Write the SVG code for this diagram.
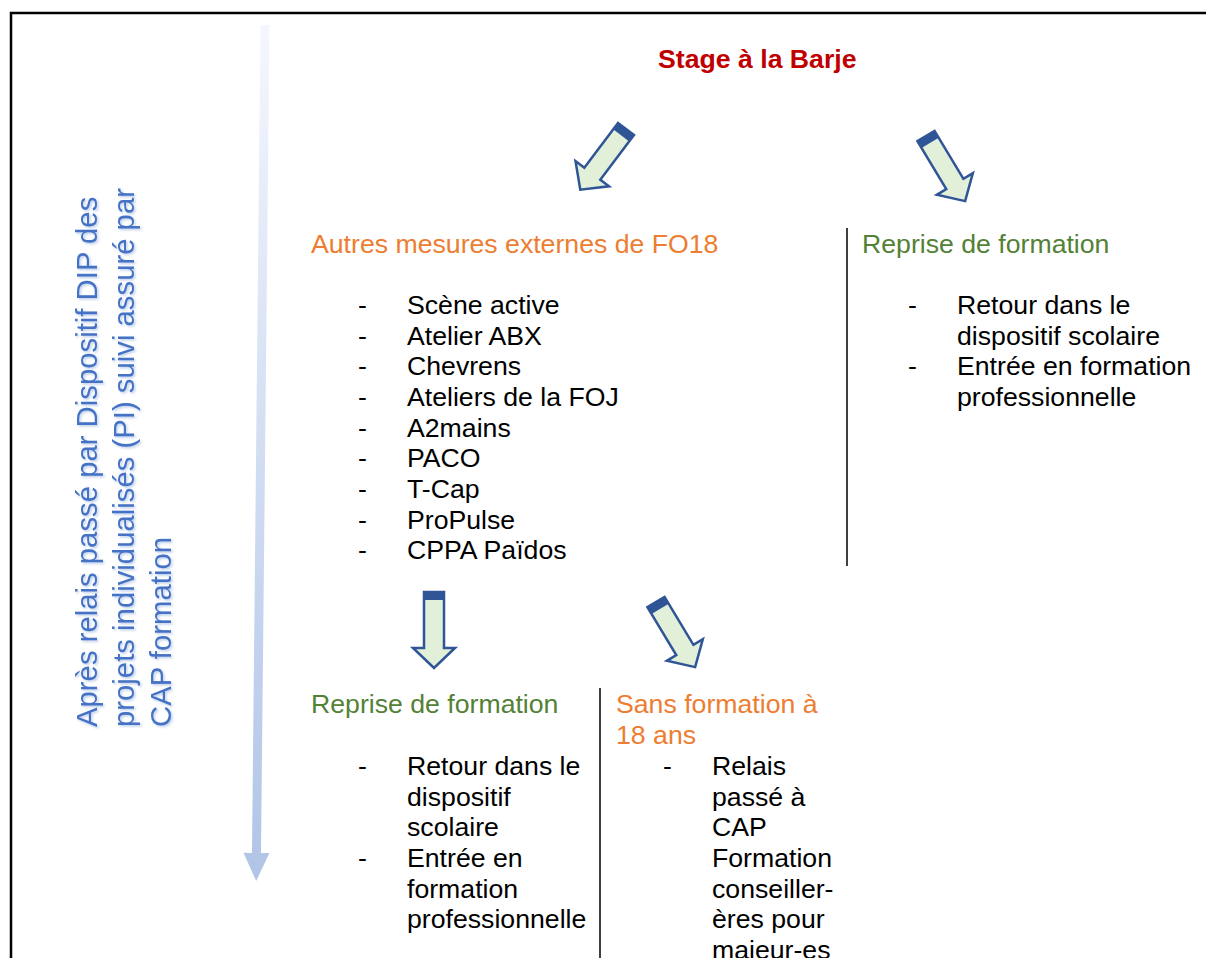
<svg xmlns="http://www.w3.org/2000/svg" xmlns:xlink="http://www.w3.org/1999/xlink" width="1206" height="958" viewBox="0 0 1206 958">
  <style>
    .t { font-family: "Liberation Sans", Arial, sans-serif; font-size: 26.67px; fill: #000000; }
    .title { font-family: "Liberation Sans", Arial, sans-serif; font-size: 26.67px; font-weight: bold; fill: #c00000; }
    .orange { fill: #ed7d31; }
    .green { fill: #538135; }
    .side { font-family: "Liberation Sans", Arial, sans-serif; font-size: 29.3px; fill: #4472c4; }
    .sep { stroke: #000000; stroke-width: 1.5; fill: none; }
    .frame { stroke: #000000; stroke-width: 2.5; fill: none; }
    .blk { fill: #e2efd9; stroke: #2f5597; stroke-width: 2.5; stroke-linejoin: miter; }
    .band { fill: #2f5597; }
  </style>
  <defs>
    <linearGradient id="timeGrad" gradientUnits="userSpaceOnUse" x1="0" y1="0" x2="0" y2="856">
      <stop offset="0" stop-color="#f4f7fd"/>
      <stop offset="1" stop-color="#b0c4e7"/>
    </linearGradient>
    <filter id="softShadow" x="-10%" y="-10%" width="120%" height="120%">
      <feDropShadow dx="1.5" dy="1.5" stdDeviation="1" flood-color="#4472c4" flood-opacity="0.35"/>
    </filter>
    <!-- block arrow pointing down, tail centred on the origin -->
    <g id="blockArrow">
      <polygon class="blk" points="-10,0 10,0 10,56 21,56 0,76 -21,56 -10,56"/>
      <rect class="band" x="-10" y="0" width="20" height="8"/>
    </g>
  </defs>

  <rect width="1206" height="958" fill="#ffffff"/>

  <!-- outer frame (top and left edges) -->
  <polyline class="frame" points="11,958 11,13 1206,13"/>

  <!-- timeline arrow on the left -->
  <g id="timeline" transform="translate(265,25) rotate(0.59)">
    <polygon fill="url(#timeGrad)" points="-4.5,0 4.5,0 4.5,828 13,828 0,856 -13,828 -4.5,828"/>
  </g>

  <g id="side-label" filter="url(#softShadow)">
    <text class="side" transform="rotate(-90)" x="-727" y="97">Après relais passé par Dispositif DIP des</text>
    <text class="side" transform="rotate(-90)" x="-727" y="134">projets individualisés (PI) suivi assuré par</text>
    <text class="side" transform="rotate(-90)" x="-727" y="171">CAP formation</text>
  </g>

  <g id="stage">
    <text class="title" x="658" y="68">Stage à la Barje</text>
  </g>

  <g id="autres-mesures">
    <text class="t orange" x="311" y="253">Autres mesures externes de FO18</text>
    <text class="t" x="358" y="314">-</text><text class="t" x="407" y="314">Scène active</text>
    <text class="t" x="358" y="345">-</text><text class="t" x="407" y="345">Atelier ABX</text>
    <text class="t" x="358" y="375">-</text><text class="t" x="407" y="375">Chevrens</text>
    <text class="t" x="358" y="406">-</text><text class="t" x="407" y="406">Ateliers de la FOJ</text>
    <text class="t" x="358" y="437">-</text><text class="t" x="407" y="437">A2mains</text>
    <text class="t" x="358" y="467">-</text><text class="t" x="407" y="467">PACO</text>
    <text class="t" x="358" y="498">-</text><text class="t" x="407" y="498">T-Cap</text>
    <text class="t" x="358" y="529">-</text><text class="t" x="407" y="529">ProPulse</text>
    <text class="t" x="358" y="559">-</text><text class="t" x="407" y="559">CPPA Païdos</text>
  </g>

  <g id="reprise-haut">
    <line class="sep" x1="847" y1="228" x2="847" y2="566"/>
    <text class="t green" x="862" y="253">Reprise de formation</text>
    <text class="t" x="908" y="314">-</text><text class="t" x="957" y="314">Retour dans le</text>
    <text class="t" x="957" y="345">dispositif scolaire</text>
    <text class="t" x="908" y="375">-</text><text class="t" x="957" y="375">Entrée en formation</text>
    <text class="t" x="957" y="406">professionnelle</text>
  </g>

  <g id="reprise-bas">
    <text class="t green" x="311" y="713">Reprise de formation</text>
    <text class="t" x="358" y="775">-</text><text class="t" x="407" y="775">Retour dans le</text>
    <text class="t" x="407" y="806">dispositif</text>
    <text class="t" x="407" y="836">scolaire</text>
    <text class="t" x="358" y="867">-</text><text class="t" x="407" y="867">Entrée en</text>
    <text class="t" x="407" y="898">formation</text>
    <text class="t" x="407" y="928">professionnelle</text>
  </g>

  <g id="sans-formation">
    <line class="sep" x1="600" y1="688" x2="600" y2="958"/>
    <text class="t orange" x="616" y="713">Sans formation à</text>
    <text class="t orange" x="616" y="744">18 ans</text>
    <text class="t" x="663" y="775">-</text><text class="t" x="712" y="775">Relais</text>
    <text class="t" x="712" y="806">passé à</text>
    <text class="t" x="712" y="836">CAP</text>
    <text class="t" x="712" y="867">Formation</text>
    <text class="t" x="712" y="898">conseiller-</text>
    <text class="t" x="712" y="928">ères pour</text>
    <text class="t" x="712" y="959">majeur-es</text>
  </g>

  <g id="connectors">
    <use xlink:href="#blockArrow" transform="translate(626,129) rotate(37)"/>
    <use xlink:href="#blockArrow" transform="translate(926,136) rotate(-31)"/>
    <use xlink:href="#blockArrow" transform="translate(434,592)"/>
    <use xlink:href="#blockArrow" transform="translate(656,602) rotate(-31)"/>
  </g>
</svg>
